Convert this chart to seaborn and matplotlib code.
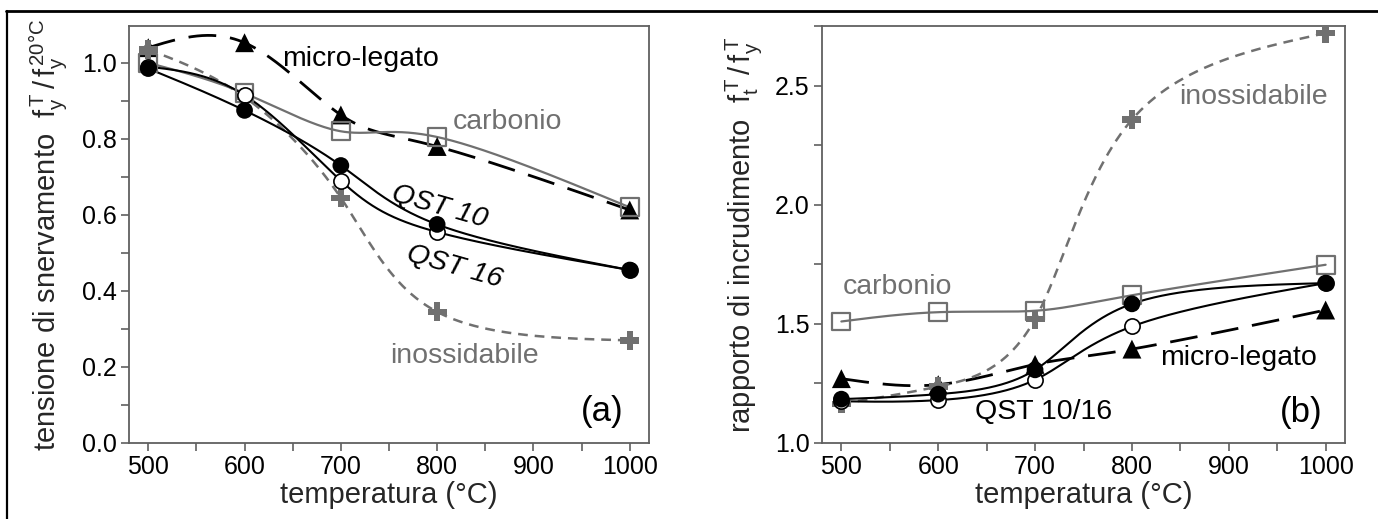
import numpy as np
import pandas as pd
import matplotlib
matplotlib.use("Agg")
import matplotlib.pyplot as plt
import seaborn as sns
from matplotlib.lines import Line2D
from matplotlib.ticker import MultipleLocator, FormatStrFormatter

# ---------------- data ----------------
temperature = [500, 600, 700, 800, 1000]

# panel (a): f_y^T / f_y^20C
a_qst10 = [0.985, 0.875, 0.73, 0.575, 0.455]
a_qst16 = [0.99, 0.915, 0.69, 0.555, 0.455]
a_carbonio = [1.00, 0.92, 0.82, 0.805, 0.62]
a_micro = [1.04, 1.053, 0.863, 0.78, 0.613]
a_inox = [1.035, 0.91, 0.645, 0.345, 0.27]

# panel (b): f_t^T / f_y^T
b_qst10 = [1.184, 1.205, 1.307, 1.584, 1.671]
b_qst16 = [1.175, 1.18, 1.265, 1.489, 1.671]
b_carbonio = [1.51, 1.549, 1.555, 1.62, 1.748]
b_micro = [1.27, 1.245, 1.33, 1.394, 1.558]
b_inox = [1.165, 1.237, 1.52, 2.357, 2.72]

# ---------------- style ----------------
sns.set_theme(style="white")
FONT = 'Liberation Sans'
plt.rcParams['font.family'] = [FONT, 'DejaVu Sans']
plt.rcParams['mathtext.fontset'] = 'custom'
plt.rcParams['mathtext.rm'] = FONT
plt.rcParams['mathtext.it'] = FONT + ':italic'
plt.rcParams['lines.scale_dashes'] = False

GRAY = '#707070'
SPINE = '#606060'


def natural_spline_uniform(y, ts):
    """Natural cubic spline through y at parameter t = 0..n-1."""
    y = np.asarray(y, float)
    n = len(y)
    A = np.zeros((n, n))
    rhs = np.zeros(n)
    A[0, 0] = 1.0
    A[-1, -1] = 1.0
    for i in range(1, n - 1):
        A[i, i - 1] = 1.0
        A[i, i] = 4.0
        A[i, i + 1] = 1.0
        rhs[i] = 3 * ((y[i + 1] - y[i]) - (y[i] - y[i - 1]))
    c = np.linalg.solve(A, rhs)
    b = (y[1:] - y[:-1]) - (2 * c[:-1] + c[1:]) / 3
    d = (c[1:] - c[:-1]) / 3
    idx = np.clip(np.floor(ts).astype(int), 0, n - 2)
    dt = ts - idx
    return y[idx] + b[idx] * dt + c[idx] * dt ** 2 + d[idx] * dt ** 3


ts = np.linspace(0, len(temperature) - 1, 600)

W, H = 1378, 519
fig = plt.figure(figsize=(W / 100, H / 100), dpi=100)
axA = fig.add_axes([129 / W, 1 - 443 / H, 520 / W, 417 / H])
axB = fig.add_axes([822 / W, 1 - 443 / H, 523 / W, 417 / H])

series_style = [
    # key, color, lw, linestyle, marker, size, face
    ('micro', 'black', 2.0, (0, (20, 10)), '^', 185, 'black'),
    ('inox', GRAY, 1.8, (0, (7, 5)), 'P', 185, GRAY),
    ('carbonio', GRAY, 1.6, '-', 's', 165, 'none'),
    ('qst16', 'black', 1.5, '-', 'o', 120, 'white'),
    ('qst10', 'black', 1.5, '-', 'o', 145, 'black'),
]

panel_data = {
    axA: {'qst10': a_qst10, 'qst16': a_qst16, 'carbonio': a_carbonio,
          'micro': a_micro, 'inox': a_inox},
    axB: {'qst10': b_qst10, 'qst16': b_qst16, 'carbonio': b_carbonio,
          'micro': b_micro, 'inox': b_inox},
}

for ax, data in panel_data.items():
    for key, col, lw, ls, mk, ms, face in series_style:
        vals = data[key]
        smooth = pd.DataFrame({'T': natural_spline_uniform(temperature, ts),
                               'v': natural_spline_uniform(vals, ts)})
        sns.lineplot(data=smooth, x='T', y='v', ax=ax, color=col, lw=lw,
                     linestyle=ls, sort=False, zorder=2)
        pts = pd.DataFrame({'T': temperature, 'v': vals})
        if face == 'none':
            sns.scatterplot(data=pts, x='T', y='v', ax=ax, marker=mk, s=ms,
                            facecolor='none', edgecolor=col, linewidth=1.6, zorder=3)
        elif face == 'white':
            sns.scatterplot(data=pts, x='T', y='v', ax=ax, marker=mk, s=ms,
                            facecolor='white', edgecolor=col, linewidth=1.2, zorder=3)
        else:
            sns.scatterplot(data=pts, x='T', y='v', ax=ax, marker=mk, s=ms,
                            color=col, edgecolor='none', linewidth=0, zorder=3)

TICK_FS = 18
LAB_FS = 21
ANN_FS = 20.5

for ax in (axA, axB):
    ax.set_xlim(480, 1020)
    ax.set_xticks([500, 600, 700, 800, 900, 1000])
    ax.xaxis.set_minor_locator(MultipleLocator(50))
    for s in ax.spines.values():
        s.set_color(SPINE)
        s.set_linewidth(1.3)
    ax.tick_params(which='both', direction='out', length=6, width=1.2,
                   color=SPINE, labelsize=TICK_FS, labelcolor='black', pad=3)
    ax.tick_params(which='both', bottom=True, left=True, top=False, right=False)
    ax.set_xlabel('temperatura (°C)', fontsize=LAB_FS, labelpad=1)
    ax.grid(False)

axA.set_ylim(0, 1.097)
axA.yaxis.set_major_locator(MultipleLocator(0.2))
axA.yaxis.set_minor_locator(MultipleLocator(0.1))
axA.yaxis.set_major_formatter(FormatStrFormatter('%.1f'))
axA.set_ylabel(r'tensione di snervamento  $\mathregular{f_y^{\,T}\,/\,f_y^{\,20°C}}$',
               fontsize=LAB_FS, labelpad=8)

axB.set_ylim(1.0, 2.75)
axB.yaxis.set_major_locator(MultipleLocator(0.5))
axB.yaxis.set_minor_locator(MultipleLocator(0.25))
axB.yaxis.set_major_formatter(FormatStrFormatter('%.1f'))
axB.set_ylabel(r'rapporto di incrudimento  $\mathregular{f_t^{\,T}\,/\,f_y^{\,T}}$',
               fontsize=LAB_FS, labelpad=8)

# annotations panel (a)
axA.text(720, 1.01, 'micro-legato', fontsize=ANN_FS, ha='center', va='center', color='black')
axA.text(873, 0.845, 'carbonio', fontsize=ANN_FS, ha='center', va='center', color=GRAY)
axA.text(802, 0.62, 'QST 10', fontsize=ANN_FS, ha='center', va='center', color='black',
         rotation=-16, style='italic')
axA.text(818, 0.463, 'QST 16', fontsize=ANN_FS, ha='center', va='center', color='black',
         rotation=-16, style='italic')
axA.text(828, 0.229, 'inossidabile', fontsize=ANN_FS, ha='center', va='center', color=GRAY)
axA.text(971, 0.082, '(a)', fontsize=25, ha='center', va='center', color='black')

# annotations panel (b)
axB.text(925, 2.45, 'inossidabile', fontsize=ANN_FS, ha='center', va='center', color=GRAY)
axB.text(558, 1.655, 'carbonio', fontsize=ANN_FS, ha='center', va='center', color=GRAY)
axB.text(910, 1.357, 'micro-legato', fontsize=ANN_FS, ha='center', va='center', color='black')
axB.text(709, 1.13, 'QST 10/16', fontsize=ANN_FS, ha='center', va='center', color='black')
axB.text(975, 1.13, '(b)', fontsize=25, ha='center', va='center', color='black')

# outer frame lines (top and left)
fig.add_artist(Line2D([0.004, 1.0], [1 - 11 / H, 1 - 11 / H], transform=fig.transFigure,
                      color='black', lw=2))
fig.add_artist(Line2D([7 / W, 7 / W], [0.0, 1 - 11 / H], transform=fig.transFigure,
                      color='black', lw=1.6))

fig.savefig('out.png', dpi=100)
